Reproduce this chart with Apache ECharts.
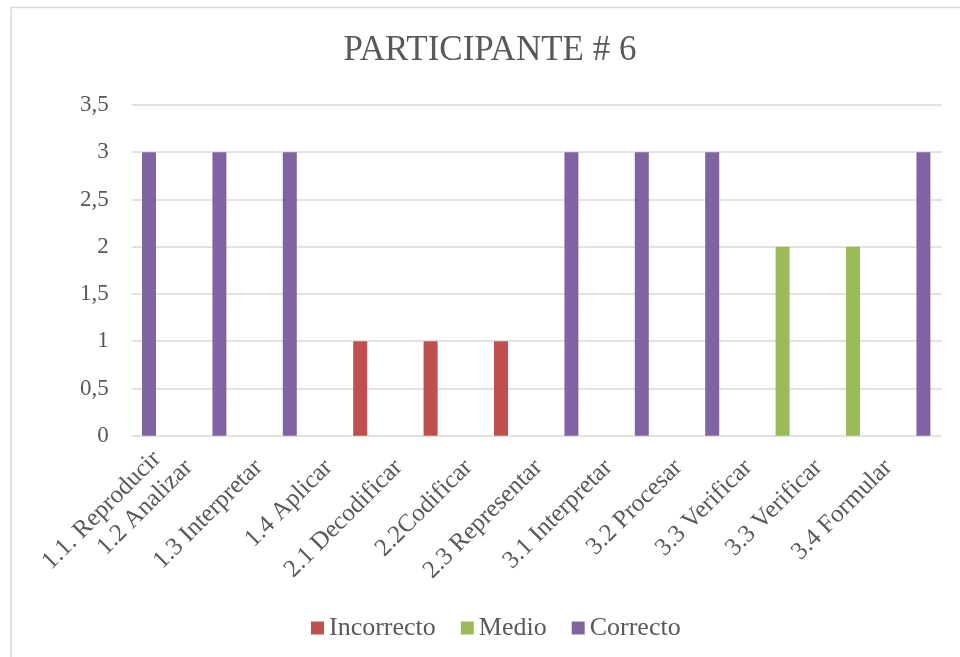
<!DOCTYPE html>
<html>
<head>
<meta charset="utf-8">
<script src="https://cdn.jsdelivr.net/npm/echarts@6/dist/echarts.min.js"></script>
<style>
html,body{margin:0;padding:0;background:#fff;}
#c{width:960px;height:657px;}
</style>
</head>
<body>
<div id="c"></div>
<script>
var categories = ['1.1. Reproducir','1.2 Analizar','1.3 Interpretar','1.4 Aplicar','2.1 Decodificar','2.2Codificar','2.3 Representar','3.1 Interpretar','3.2 Procesar','3.3 Verificar','3.3 Verificar','3.4 Formular'];
var incorrecto = [null,null,null,1,1,1,null,null,null,null,null,null];
var medio      = [null,null,null,null,null,null,null,null,null,2,2,null];
var correcto   = [3,3,3,null,null,null,3,3,3,null,null,3];
var yTicks = [0,0.5,1,1.5,2,2.5,3,3.5];

var FONT = 'Liberation Serif';
var TXT = '#595959';
var chart = echarts.init(document.getElementById('c'));

var labelData = categories.map(function(c, i){
  if (i === 0) return {value: c, textStyle: {padding: [0, -33, 0, 0], lineHeight: 42}};
  return c;
});

var gTop = 105, gBottom = 221.3;
chart.setOption({
  animation: false,
  graphic: [{type:'rect', shape:{x:11, y:7.5, width:1000, height:1000}, style:{fill:'none', stroke:'#D9D9D9', lineWidth:1.5}, silent:true}],
  title: {text:'PARTICIPANTE # 6', left:490, top:33, padding:0, textAlign:'center',
    textStyle:{fontFamily:FONT, fontSize:35, fontWeight:'normal', color:TXT}},
  legend: {left:306, top:610, itemWidth:13, itemHeight:13, itemGap:25, icon:'rect',
    textStyle:{fontFamily:FONT, fontSize:26, color:TXT},
    data:['Incorrecto','Medio','Correcto']},
  grid: [
    {left:131.7, right:18.3, top:gTop, bottom:gBottom},
    {left:113.8, right:1.4, top:gTop, bottom:gBottom},
    {left:78.2, right:36.8, top:gTop, bottom:gBottom}
  ],
  xAxis: [
    {type:'category', gridIndex:0, data:categories, show:false},
    {type:'category', gridIndex:1, data:categories, show:false},
    {type:'category', gridIndex:2, data:labelData, axisLine:{show:false}, axisTick:{show:false}, splitLine:{show:false},
      axisLabel:{interval:0, rotate:45, margin:28, fontFamily:FONT, fontSize:25, color:TXT,
        formatter:function(v, i){ return i === 0 ? '\n' + v : v; }}}
  ],
  yAxis: [
    {type:'value', gridIndex:0, min:yTicks[0], max:yTicks[yTicks.length-1], interval:0.5,
      axisLine:{show:false}, axisTick:{show:false},
      splitLine:{lineStyle:{color:'#D9D9D9', width:1.5}},
      axisLabel:{margin:23, fontFamily:FONT, fontSize:23, color:TXT,
        formatter:function(v){return String(v).replace('.', ',');}}},
    {type:'value', gridIndex:1, min:0, max:3.5, show:false},
    {type:'value', gridIndex:2, min:0, max:3.5, show:false}
  ],
  series: [
    {name:'Incorrecto', type:'bar', xAxisIndex:1, yAxisIndex:1, stack:'s', barWidth:14, data:incorrecto, itemStyle:{color:'#C0504D'}},
    {name:'Medio', type:'bar', xAxisIndex:1, yAxisIndex:1, stack:'s', barWidth:14, data:medio, itemStyle:{color:'#9BBB59'}},
    {name:'Correcto', type:'bar', xAxisIndex:1, yAxisIndex:1, stack:'s', barWidth:14, data:correcto, itemStyle:{color:'#8064A2'}}
  ]
});
</script>
</body>
</html>
